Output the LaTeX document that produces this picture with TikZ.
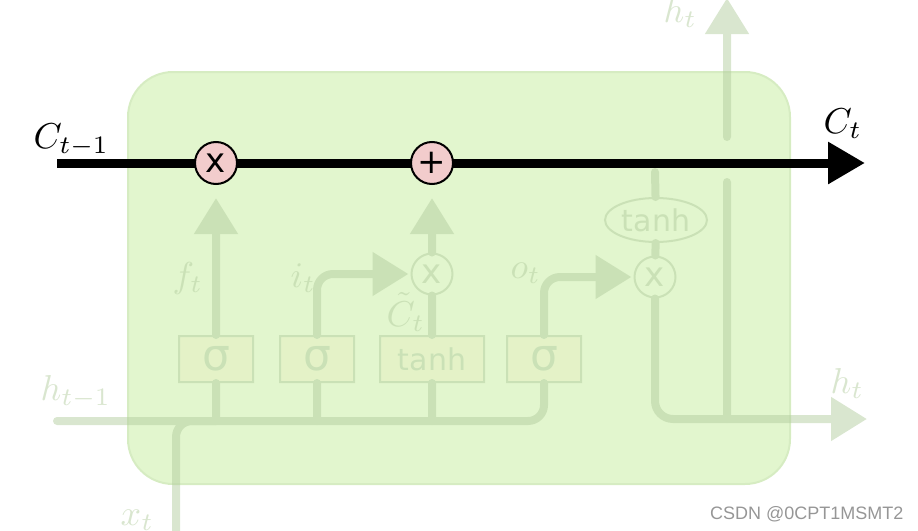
\documentclass[tikz,border=0pt]{standalone}
\usepackage{fontspec}
\newfontfamily\dvs{DejaVu Sans}
\newfontfamily\lib{Liberation Sans}
\usetikzlibrary{arrows.meta,shapes.geometric}
\definecolor{cellbg}{RGB}{226,246,206}
\definecolor{cellbd}{RGB}{214,236,194}
\definecolor{faint}{RGB}{180,205,160}
\definecolor{gatefill}{RGB}{230,240,194}
\definecolor{pinkop}{RGB}{242,204,204}
\definecolor{wmgray}{RGB}{150,150,150}
\begin{document}
\begin{tikzpicture}[x=1pt,y=-1pt,
  cellbox/.style={draw=cellbd, fill=cellbg, line width=2pt, rounded corners=45pt, minimum width=662pt, minimum height=412pt, inner sep=0pt},
  faintline/.style={draw=faint, line width=8pt, line cap=round},
  farrow/.style={faintline, -{Triangle[length=36pt,width=42pt]}},
  gate/.style={draw=faint, line width=2pt, fill=gatefill, minimum height=46pt, inner sep=0pt, text=faint},
  sig/.style={gate, minimum width=74pt, font=\dvs\fontsize{44}{48}\selectfont},
  tgate/.style={gate, minimum width=104pt, font=\dvs\fontsize{30}{34}\selectfont},
  fcirc/.style={circle, draw=faint, line width=2pt, fill=cellbg, minimum size=41pt, inner sep=0pt, text=faint, font=\dvs\fontsize{34}{38}\selectfont},
  fell/.style={ellipse, draw=faint, line width=2pt, fill=cellbg, minimum width=102pt, minimum height=44pt, inner sep=0pt, text=faint, font=\dvs\fontsize{30}{34}\selectfont},
  pcirc/.style={circle, draw=black, line width=2pt, fill=pinkop, minimum size=42pt, inner sep=0pt, font=\dvs\fontsize{34}{38}\selectfont},
  flabel/.style={text=faint, scale=3.6, inner sep=0pt, anchor=base west},
  clabel/.style={text=black, scale=3.6, inner sep=0pt, anchor=base west},
  cellline/.style={line width=9pt, -{Triangle[length=37pt,width=40pt]}}
]
\useasboundingbox (0,0) rectangle (918,530);
\node[cellbox] (cell) at (459,278) {};

% cell state line
\coordinate (cin) at (57,163);
\coordinate (cout) at (865,163);
\draw[cellline] (cin) -- (cout);
\node[pcirc] (mf) at (216,163) {x};
\node[pcirc] (add) at (432,163) {+};
\node[clabel] (lcprev) at (33,148) {$C_{t-1}$};
\node[clabel] (lc) at (823,133) {$C_t$};

% faded part
\begin{scope}[transparency group, opacity=0.5]
  \coordinate (hin) at (57,421);
  \coordinate (xin) at (176,540);
  \coordinate (hup) at (727,-2);
  \coordinate (hright) at (867,419);
  \coordinate (c655) at (655,172);
  \coordinate (gapA) at (727,137);
  \coordinate (gapB) at (727,182);
  \coordinate (hj) at (727,419);

  \node[sig] (s1) at (216,359) {σ};
  \node[sig] (s2) at (317,359) {σ};
  \node[tgate] (tb) at (432,359) {tanh};
  \node[sig] (s4) at (544,359) {σ};
  \node[fcirc] (mi) at (432,274) {x};
  \node[fcirc] (mo) at (655,277) {x};
  \node[fell] (te) at (656,220) {tanh};

  \draw[faintline, rounded corners=16pt] (hin) -| (s4.south);
  \draw[faintline, rounded corners=16pt] (xin) |- (s1.south |- hin);
  \draw[faintline] (s1.south) -- (s1.south |- hin);
  \draw[faintline] (s2.south) -- (s2.south |- hin);
  \draw[faintline] (tb.south) -- (tb.south |- hin);

  \draw[farrow, shorten >=13pt] (s1.north) -- (mf);
  \draw[farrow, rounded corners=16pt, shorten >=2pt] (s2.north) |- (mi);
  \draw[faintline] (tb.north) -- (mi);
  \draw[farrow, shorten >=13pt] (mi) -- (add);
  \draw[farrow, rounded corners=16pt, shorten >=2pt] (s4.north) |- (mo);
  \draw[faintline] (c655) -- (te);
  \draw[faintline] (te) -- (mo);
  \draw[farrow, rounded corners=18pt] (mo) |- (hright);
  \draw[faintline] (hj) -- (gapB);
  \draw[farrow] (gapA) -- (hup);

  \node[flabel] (lft) at (172,287) {$f_t$};
  \node[flabel] (lit) at (290,287) {$i_t$};
  \node[flabel] (lot) at (510,278) {$o_t$};
  \node[flabel] (lct) at (386,326) {$\tilde{C}_t$};
  \node[flabel] (lhtop) at (663,22) {$h_t$};
  \node[flabel] (lhprev) at (40,400) {$h_{t-1}$};
  \node[flabel] (lhr) at (830,393) {$h_t$};
  \node[flabel] (lxt) at (120,525) {$x_t$};
\end{scope}

\node[font=\lib\fontsize{18}{20}\selectfont, text=wmgray, anchor=base west, inner sep=0pt] (wm) at (710,519) {CSDN @0CPT1MSMT2};
\end{tikzpicture}
\end{document}
